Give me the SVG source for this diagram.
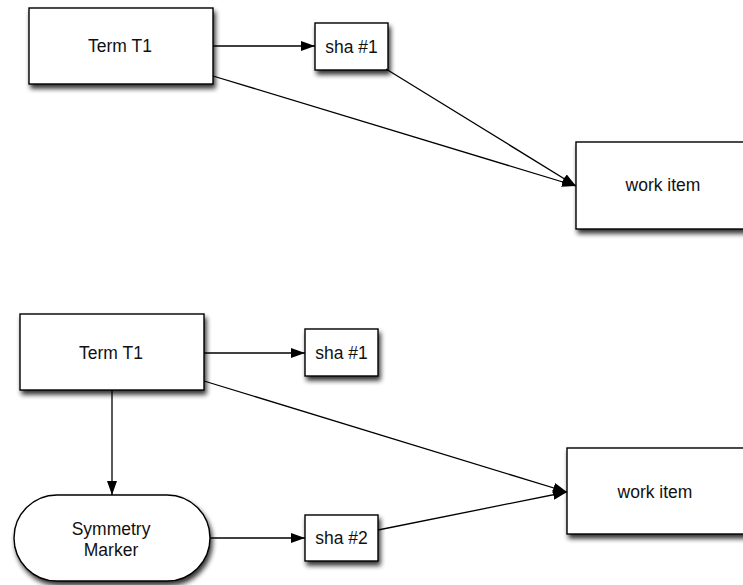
<svg xmlns="http://www.w3.org/2000/svg" width="743" height="585" viewBox="0 0 743 585">
  <style>
    .box { fill: #ffffff; stroke: #000000; stroke-width: 1.4; filter: url(#shadow); }
    .label { font-family: "Liberation Sans", Arial, sans-serif; font-size: 17.5px; fill: #111111; text-anchor: middle; dominant-baseline: central; }
    .edge { fill: none; stroke: #000000; stroke-width: 1.3; marker-end: url(#arrow); }
  </style>
  <defs>
    <filter id="shadow" x="-20%" y="-20%" width="150%" height="160%">
      <feGaussianBlur in="SourceAlpha" stdDeviation="2.5"/>
      <feOffset dx="2" dy="4" result="blur"/>
      <feComponentTransfer><feFuncA type="linear" slope="0.8"/></feComponentTransfer>
      <feMerge><feMergeNode/><feMergeNode in="SourceGraphic"/></feMerge>
    </filter>
    <marker id="arrow" viewBox="0 0 14 10" refX="14" refY="5" markerWidth="14" markerHeight="10" markerUnits="userSpaceOnUse" orient="auto">
      <path d="M0,0 L14,5 L0,10 Z" fill="#000000"/>
    </marker>
  </defs>

  <!-- upper graph -->
  <g id="term-t1-a">
    <rect class="box" x="29" y="8" width="184" height="76"/>
    <text class="label" x="120" y="46">Term T1</text>
  </g>
  <g id="sha1-a">
    <rect class="box" x="315" y="23" width="73" height="47"/>
    <text class="label" x="351.5" y="46.5">sha #1</text>
  </g>
  <g id="work-item-a">
    <rect class="box" x="576" y="142" width="180" height="87"/>
    <text class="label" x="663" y="185">work item</text>
  </g>

  <!-- lower graph -->
  <g id="term-t1-b">
    <rect class="box" x="20" y="314" width="184" height="76"/>
    <text class="label" x="111" y="353">Term T1</text>
  </g>
  <g id="sha1-b">
    <rect class="box" x="305" y="329" width="73" height="47"/>
    <text class="label" x="341.5" y="352.5">sha #1</text>
  </g>
  <g id="symmetry-marker">
    <rect class="box" x="14" y="495" width="196" height="86" rx="43" ry="43"/>
    <text class="label" x="111" y="529">Symmetry</text>
    <text class="label" x="111" y="550">Marker</text>
  </g>
  <g id="sha2">
    <rect class="box" x="305" y="515" width="73" height="46"/>
    <text class="label" x="341.5" y="538">sha #2</text>
  </g>
  <g id="work-item-b">
    <rect class="box" x="567" y="448" width="190" height="86"/>
    <text class="label" x="655" y="492">work item</text>
  </g>

  <g id="connectors">
    <path class="edge" d="M213,46 L315,46"/>
    <path class="edge" d="M213,76 L576,186"/>
    <path class="edge" d="M386,69 L576,186"/>
    <path class="edge" d="M204,353 L305,353"/>
    <path class="edge" d="M204,381 L567,492"/>
    <path class="edge" d="M112,390 L112,495"/>
    <path class="edge" d="M210,538 L305,538"/>
    <path class="edge" d="M378,530 L567,492"/>
  </g>
</svg>
